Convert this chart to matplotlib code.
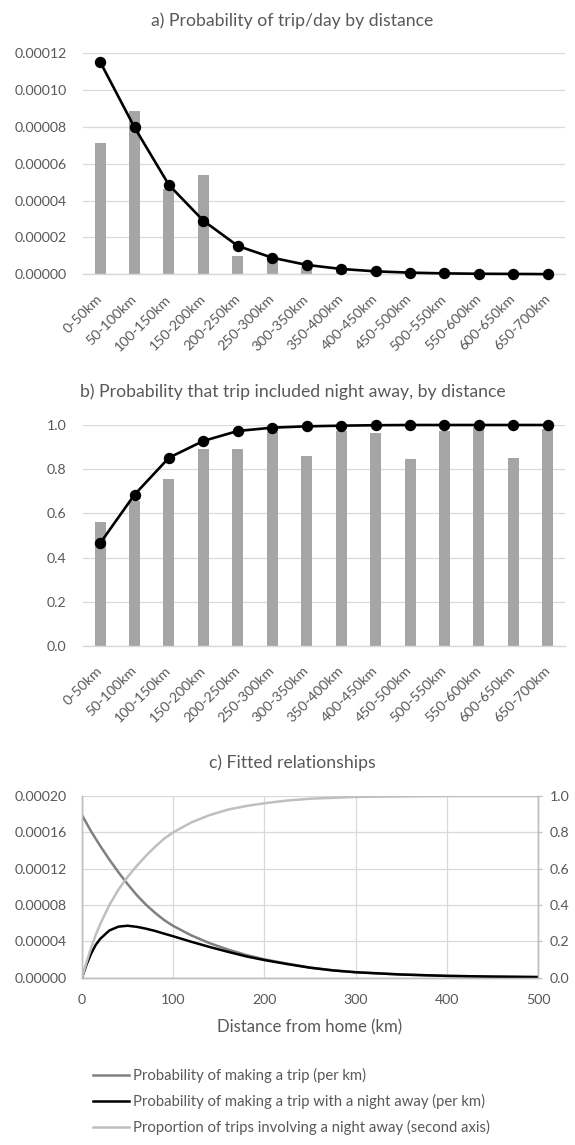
import matplotlib
matplotlib.use("Agg")
import matplotlib.pyplot as plt
from matplotlib.lines import Line2D
from matplotlib.ticker import FormatStrFormatter

plt.rcParams['font.family'] = ['Lato', 'DejaVu Sans']

TXT = '#595959'
GRID = '#D9D9D9'
BAR = '#A5A5A5'
W, H = 575, 1145

# ---- data ----
bands = ['0-50km', '50-100km', '100-150km', '150-200km', '200-250km', '250-300km',
         '300-350km', '350-400km', '400-450km', '450-500km', '500-550km', '550-600km',
         '600-650km', '650-700km']

# a) probability of trip/day by distance
trip_obs = [7.15e-5, 8.9e-5, 4.65e-5, 5.4e-5, 1.02e-5, 0.82e-5, 0.42e-5,
            0.18e-5, 0.1e-5, 0.05e-5, 0.03e-5, 0.02e-5, 0.01e-5, 0.01e-5]
trip_fit = [11.55e-5, 7.98e-5, 4.85e-5, 2.91e-5, 1.54e-5, 0.90e-5, 0.51e-5,
            0.29e-5, 0.16e-5, 0.09e-5, 0.05e-5, 0.03e-5, 0.02e-5, 0.01e-5]

# b) probability that trip included night away
night_obs = [0.56, 0.656, 0.757, 0.89, 0.891, 0.967, 0.861, 0.974, 0.964,
             0.845, 0.973, 0.992, 0.852, 0.982]
night_fit = [0.465, 0.685, 0.852, 0.928, 0.973, 0.988, 0.994, 0.997, 0.999,
             1.0, 1.0, 1.0, 1.0, 1.0]

# c) fitted relationships (read off the curves)
dist_km = [0, 5, 10, 15, 20, 30, 40, 50, 60, 70, 80, 90, 100, 120, 140, 160,
           180, 200, 225, 250, 275, 300, 350, 400, 450, 500]
p_trip = [17.9, 17.0, 16.1, 15.3, 14.5, 13.0, 11.6, 10.3, 9.1, 8.05, 7.15, 6.35,
          5.7, 4.65, 3.8, 3.1, 2.5, 2.02, 1.55, 1.12, 0.82, 0.6, 0.35, 0.2,
          0.12, 0.07]
p_trip = [v * 1e-5 for v in p_trip]
p_trip_night = [0, 1.45, 2.65, 3.6, 4.28, 5.2, 5.62, 5.72, 5.6, 5.4, 5.15, 4.85,
                4.56, 3.95, 3.38, 2.85, 2.35, 1.94, 1.5, 1.1, 0.8, 0.6, 0.35,
                0.2, 0.12, 0.07]
p_trip_night = [v * 1e-5 for v in p_trip_night]
prop_night = [0, 0.085, 0.165, 0.235, 0.295, 0.40, 0.485, 0.555, 0.615, 0.67,
              0.72, 0.765, 0.80, 0.855, 0.895, 0.925, 0.945, 0.96, 0.975, 0.985,
              0.99, 0.995, 0.998, 1.0, 1.0, 1.0]

legend_labels = ['Probability of making a trip (per km)',
                 'Probability of making a trip with a night away (per km)',
                 'Proportion of trips involving a night away (second axis)']

fig = plt.figure(figsize=(W / 100, H / 100), dpi=100)
renderer = fig.canvas.get_renderer()


def fit_size(s, target_px, base=10.0):
    # font size that makes string s about target_px wide
    t = fig.text(0, 0, s, fontsize=base)
    w = t.get_window_extent(renderer).width
    t.remove()
    return base * target_px / w


def fx(px):
    return px / W


def fy(px):
    return 1 - px / H


FS_TITLE = fit_size('a) Probability of trip/day by distance', 282)
FS_TICK = fit_size('0.00012', 52.5)
FS_XLAB = fit_size('Distance from home (km)', 185)
FS_LEG = fit_size(legend_labels[2], 358)


def style_cat_axis(ax):
    for s in ['top', 'right', 'left']:
        ax.spines[s].set_visible(False)
    ax.spines['bottom'].set_color(GRID)
    ax.spines['bottom'].set_linewidth(1.0)
    ax.grid(axis='y', color=GRID, linewidth=0.9)
    ax.set_axisbelow(True)
    ax.tick_params(axis='y', length=0, pad=11.7, labelsize=FS_TICK, labelcolor=TXT)
    ax.tick_params(axis='x', length=0, pad=16.3, labelsize=FS_TICK, labelcolor=TXT)
    ax.set_xlim(-0.5, len(bands) - 0.5)
    ax.set_xticks(range(len(bands)))
    ax.set_xticklabels(bands, rotation=45, ha='right', va='center',
                       rotation_mode='anchor')


x = list(range(len(bands)))

# ---- panel a ----
ax1 = fig.add_axes([fx(82.9), fy(274.3), fx(565 - 82.9), (274.3 - 53.5) / H])
ax1.bar(x, trip_obs, width=0.32, color=BAR, zorder=2)
ax1.plot(x, trip_fit, color='black', lw=1.9, marker='o', ms=7.2, zorder=3,
         clip_on=False)
ax1.set_ylim(0, 0.00012)
ax1.set_yticks([0, 0.00002, 0.00004, 0.00006, 0.00008, 0.0001, 0.00012])
ax1.yaxis.set_major_formatter(FormatStrFormatter('%.5f'))
style_cat_axis(ax1)
fig.text(fx(292), fy(20.8), 'a) Probability of trip/day by distance', ha='center',
         va='center', fontsize=FS_TITLE, color=TXT)

# ---- panel b ----
ax2 = fig.add_axes([fx(82.9), fy(646), fx(565 - 82.9), (646 - 425) / H])
ax2.bar(x, night_obs, width=0.32, color=BAR, zorder=2)
ax2.plot(x, night_fit, color='black', lw=1.9, marker='o', ms=7.2, zorder=3,
         clip_on=False)
ax2.set_ylim(0, 1.0)
ax2.set_yticks([0, 0.2, 0.4, 0.6, 0.8, 1.0])
ax2.yaxis.set_major_formatter(FormatStrFormatter('%.1f'))
style_cat_axis(ax2)
fig.text(fx(292.5), fy(391.7), 'b) Probability that trip included night away, by distance',
         ha='center', va='center', fontsize=FS_TITLE, color=TXT)

# ---- panel c ----
ax3 = fig.add_axes([fx(82), fy(977.7), fx(538 - 82), (977.7 - 796) / H])
ax3b = ax3.twinx()
l1, = ax3.plot(dist_km, p_trip, color='#808080', lw=1.8, zorder=3)
l2, = ax3.plot(dist_km, p_trip_night, color='black', lw=1.8, zorder=4)
l3, = ax3b.plot(dist_km, prop_night, color='#BFBFBF', lw=1.8)
ax3.set_xlim(0, 500)
ax3.set_ylim(0, 0.0002)
ax3b.set_ylim(0, 1.0)
ax3.set_xticks([0, 100, 200, 300, 400, 500])
ax3.set_yticks([0, 0.00004, 0.00008, 0.00012, 0.00016, 0.0002])
ax3b.set_yticks([0, 0.2, 0.4, 0.6, 0.8, 1.0])
ax3.yaxis.set_major_formatter(FormatStrFormatter('%.5f'))
ax3b.yaxis.set_major_formatter(FormatStrFormatter('%.1f'))
ax3.grid(True, color=GRID, linewidth=0.9)
ax3.set_axisbelow(True)
for a in (ax3, ax3b):
    a.spines['top'].set_visible(False)
    for s in ['left', 'right', 'bottom']:
        a.spines[s].set_color('#BFBFBF')
        a.spines[s].set_linewidth(1.0)
ax3.tick_params(axis='y', length=0, pad=11, labelsize=FS_TICK, labelcolor=TXT)
ax3.tick_params(axis='x', length=0, pad=11.5, labelsize=FS_TICK, labelcolor=TXT)
ax3b.tick_params(axis='y', length=2.9, width=0.9, color='#BFBFBF', pad=5.8,
                 labelsize=FS_TICK, labelcolor=TXT)
ax3.set_xlabel('Distance from home (km)', fontsize=FS_XLAB, color=TXT, va='center')
ax3.xaxis.set_label_coords(0.5, (977.7 - 1027.5) / (977.7 - 796))
fig.text(fx(292.8), fy(763), 'c) Fitted relationships', ha='center', va='center',
         fontsize=FS_TITLE, color=TXT)

# ---- legend (below panel c) ----
legend_rows = [1075, 1101, 1127]
for ln, lab, yy in zip([l1, l2, l3], legend_labels, legend_rows):
    fig.add_artist(Line2D([fx(93.3), fx(129.3)], [fy(yy), fy(yy)],
                          color=ln.get_color(), lw=ln.get_linewidth()))
    fig.text(fx(133.3), fy(yy), lab, ha='left', va='center',
             fontsize=FS_LEG, color=TXT)

fig.savefig('out.png', dpi=100)
